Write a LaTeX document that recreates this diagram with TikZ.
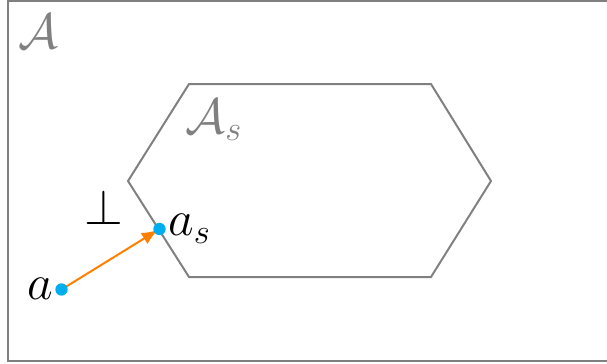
\documentclass[tikz,border=0pt]{standalone}
\usetikzlibrary{arrows.meta,backgrounds}
\definecolor{linegray}{RGB}{128,128,128}
\definecolor{dotcyan}{RGB}{0,174,239}
\definecolor{arrowor}{RGB}{255,127,0}
\begin{document}
\begin{tikzpicture}[x=0.5pt,y=-0.5pt,
  frame/.style={draw=linegray,line width=1pt},
  dotnode/.style={circle,fill=dotcyan,inner sep=0pt,minimum size=6.2pt},
  lbl/.style={font=\fontsize{25}{30}\selectfont,inner sep=0pt},
  glbl/.style={lbl,text=linegray},
  arr/.style={draw=arrowor,line width=1pt,shorten >=1pt,-{Latex[length=8pt,width=6.5pt]}}]
\useasboundingbox (0,0) rectangle (607,364);
\draw[frame] (8,1) rectangle (640,361);
\draw[frame] (128,181) -- (189,84) -- (431,84) -- (491,181) -- (431,277) -- (189,277) -- cycle;
\node[glbl] (A) at (38,31) {$\mathcal{A}$};
\node[glbl] (As) at (214,120) {$\mathcal{A}_s$};
\node[lbl] (perp) at (104,207) {$\perp$};
\node[dotnode] (a) at (61.5,289.5) {};
\node[dotnode] (as) at (159.5,229) {};
\node[lbl,anchor=east] (la) at (53,289) {$a$};
\node[lbl,anchor=west] (las) at (168,229) {$a_s$};
\begin{pgfonlayer}{background}
\draw[arr] (a.center) -- (as.center);
\end{pgfonlayer}
\end{tikzpicture}
\end{document}
